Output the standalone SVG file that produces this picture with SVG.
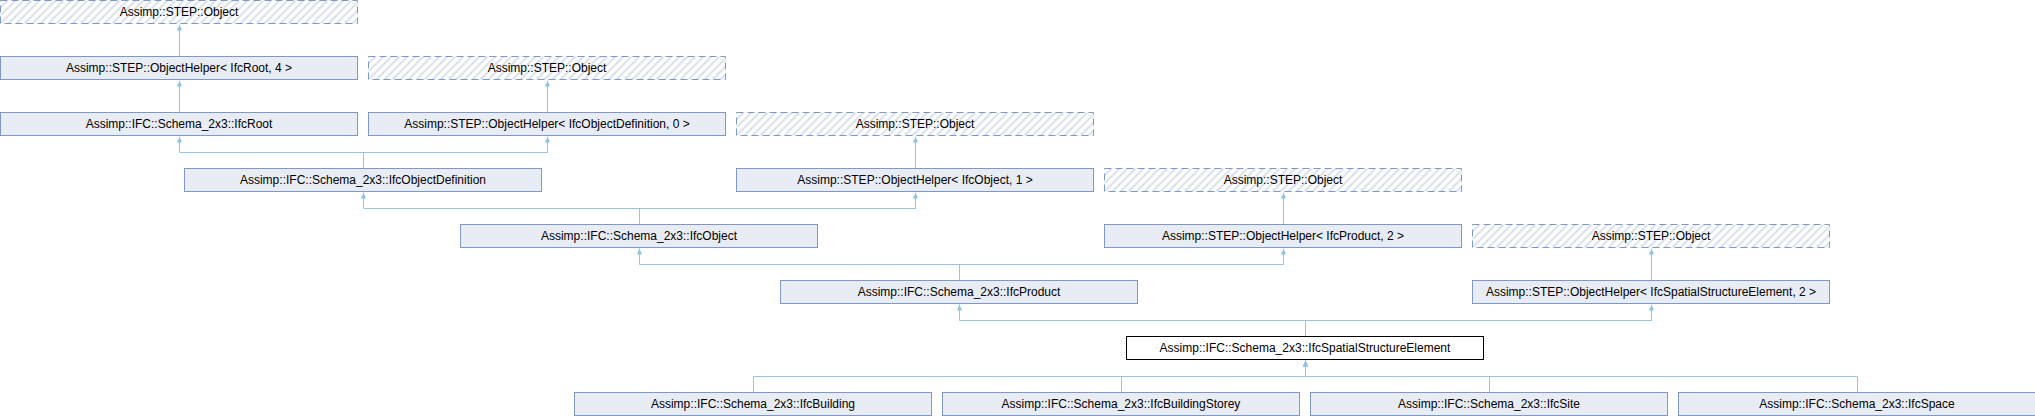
<svg xmlns="http://www.w3.org/2000/svg" width="2035" height="416" viewBox="0 0 2035 416">
<style>
.box{fill:#e8ecf4;stroke:#7f97c9;stroke-width:1}
.ext{fill:url(#hatch);stroke:#7f97c9;stroke-width:1;stroke-dasharray:7,4}
.main{fill:#ffffff;stroke:#000000;stroke-width:1}
text{font-family:"Liberation Sans",Arial,sans-serif;font-size:12px;fill:#000000;text-anchor:middle}
.edge{fill:none;stroke:#8fc6e6;stroke-width:1;marker-end:url(#arr)}
</style>
<defs>
<pattern id="hatch" patternUnits="userSpaceOnUse" width="8" height="8">
<rect width="8" height="8" fill="#ffffff"/>
<path d="M-2,2 L2,-2 M0,8 L8,0 M6,10 L10,6" stroke="#dde3ef" stroke-width="2.2"/>
</pattern>
<marker id="arr" markerUnits="userSpaceOnUse" markerWidth="8" markerHeight="8" viewBox="0 0 8 8" refX="6" refY="4" orient="auto" overflow="visible">
<path d="M6,4 L0,1.5 L0,6.5 Z" fill="#8fc6e6"/>
</marker>
</defs>
<g id="connectors">
<path class="edge" d="M179.5,56 V24.5"/>
<path class="edge" d="M179.5,112 V80.5"/>
<path class="edge" d="M547.5,112 V80.5"/>
<path class="edge" d="M363.5,168 V152.5 H179.5 V136.5"/>
<path class="edge" d="M363.5,168 V152.5 H547.5 V136.5"/>
<path class="edge" d="M915.5,168 V136.5"/>
<path class="edge" d="M639.5,224 V208.5 H363.5 V192.5"/>
<path class="edge" d="M639.5,224 V208.5 H915.5 V192.5"/>
<path class="edge" d="M1283.5,224 V192.5"/>
<path class="edge" d="M959.5,280 V264.5 H639.5 V248.5"/>
<path class="edge" d="M959.5,280 V264.5 H1283.5 V248.5"/>
<path class="edge" d="M1651.5,280 V248.5"/>
<path class="edge" d="M1305.5,336 V320.5 H959.5 V304.5"/>
<path class="edge" d="M1305.5,336 V320.5 H1651.5 V304.5"/>
<path class="edge" d="M753.5,392 V376.5 H1305.5 V360.5"/>
<path class="edge" d="M1121.5,392 V376.5 H1305.5 V360.5"/>
<path class="edge" d="M1489.5,392 V376.5 H1305.5 V360.5"/>
<path class="edge" d="M1857.5,392 V376.5 H1305.5 V360.5"/>
</g>
<g id="n_step_object_1"><rect class="ext" x="0.5" y="0.5" width="357" height="23"/><text x="179" y="16">Assimp::STEP::Object</text></g>
<g id="n_helper_ifcroot"><rect class="box" x="0.5" y="56.5" width="357" height="23"/><text x="179" y="72">Assimp::STEP::ObjectHelper&lt; IfcRoot, 4 &gt;</text></g>
<g id="n_step_object_2"><rect class="ext" x="368.5" y="56.5" width="357" height="23"/><text x="547" y="72">Assimp::STEP::Object</text></g>
<g id="n_ifcroot"><rect class="box" x="0.5" y="112.5" width="357" height="23"/><text x="179" y="128">Assimp::IFC::Schema_2x3::IfcRoot</text></g>
<g id="n_helper_ifcobjectdefinition"><rect class="box" x="368.5" y="112.5" width="357" height="23"/><text x="547" y="128">Assimp::STEP::ObjectHelper&lt; IfcObjectDefinition, 0 &gt;</text></g>
<g id="n_step_object_3"><rect class="ext" x="736.5" y="112.5" width="357" height="23"/><text x="915" y="128">Assimp::STEP::Object</text></g>
<g id="n_ifcobjectdefinition"><rect class="box" x="184.5" y="168.5" width="357" height="23"/><text x="363" y="184">Assimp::IFC::Schema_2x3::IfcObjectDefinition</text></g>
<g id="n_helper_ifcobject"><rect class="box" x="736.5" y="168.5" width="357" height="23"/><text x="915" y="184">Assimp::STEP::ObjectHelper&lt; IfcObject, 1 &gt;</text></g>
<g id="n_step_object_4"><rect class="ext" x="1104.5" y="168.5" width="357" height="23"/><text x="1283" y="184">Assimp::STEP::Object</text></g>
<g id="n_ifcobject"><rect class="box" x="460.5" y="224.5" width="357" height="23"/><text x="639" y="240">Assimp::IFC::Schema_2x3::IfcObject</text></g>
<g id="n_helper_ifcproduct"><rect class="box" x="1104.5" y="224.5" width="357" height="23"/><text x="1283" y="240">Assimp::STEP::ObjectHelper&lt; IfcProduct, 2 &gt;</text></g>
<g id="n_step_object_5"><rect class="ext" x="1472.5" y="224.5" width="357" height="23"/><text x="1651" y="240">Assimp::STEP::Object</text></g>
<g id="n_ifcproduct"><rect class="box" x="780.5" y="280.5" width="357" height="23"/><text x="959" y="296">Assimp::IFC::Schema_2x3::IfcProduct</text></g>
<g id="n_helper_ifcspatialstructureelement"><rect class="box" x="1472.5" y="280.5" width="357" height="23"/><text x="1651" y="296">Assimp::STEP::ObjectHelper&lt; IfcSpatialStructureElement, 2 &gt;</text></g>
<g id="n_ifcspatialstructureelement"><rect class="main" x="1126.5" y="336.5" width="357" height="23"/><text x="1305" y="352">Assimp::IFC::Schema_2x3::IfcSpatialStructureElement</text></g>
<g id="n_ifcbuilding"><rect class="box" x="574.5" y="392.5" width="357" height="23"/><text x="753" y="408">Assimp::IFC::Schema_2x3::IfcBuilding</text></g>
<g id="n_ifcbuildingstorey"><rect class="box" x="942.5" y="392.5" width="357" height="23"/><text x="1121" y="408">Assimp::IFC::Schema_2x3::IfcBuildingStorey</text></g>
<g id="n_ifcsite"><rect class="box" x="1310.5" y="392.5" width="357" height="23"/><text x="1489" y="408">Assimp::IFC::Schema_2x3::IfcSite</text></g>
<g id="n_ifcspace"><rect class="box" x="1678.5" y="392.5" width="357" height="23"/><text x="1857" y="408">Assimp::IFC::Schema_2x3::IfcSpace</text></g>
</svg>
